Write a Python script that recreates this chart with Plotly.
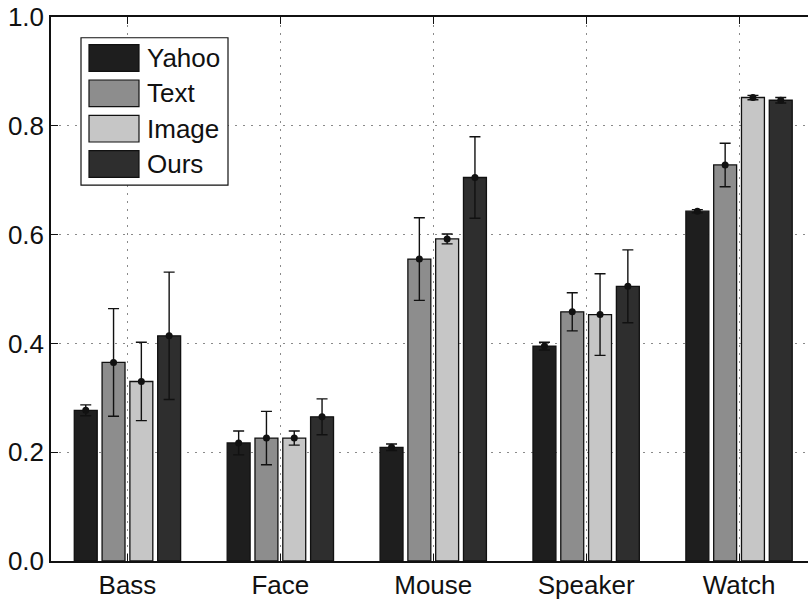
import plotly.graph_objects as go

# Retrieval accuracy per query category, mean and spread for each method
categories = ["Bass", "Face", "Mouse", "Speaker", "Watch"]
methods = ["Yahoo", "Text", "Image", "Ours"]

yahoo = [0.277, 0.217, 0.209, 0.395, 0.643]
yahoo_err = [0.010, 0.022, 0.006, 0.007, 0.003]
text = [0.365, 0.226, 0.555, 0.458, 0.728]
text_err = [0.099, 0.049, 0.076, 0.035, 0.040]
image = [0.330, 0.226, 0.592, 0.453, 0.852]
image_err = [0.072, 0.013, 0.009, 0.075, 0.004]
ours = [0.414, 0.265, 0.705, 0.505, 0.847]
ours_err = [0.117, 0.033, 0.075, 0.067, 0.005]

y_ticks = [0.0, 0.2, 0.4, 0.6, 0.8, 1.0]

series = [yahoo, text, image, ours]
errors = [yahoo_err, text_err, image_err, ours_err]
fills = ["#1e1e1e", "#8d8d8d", "#c6c6c6", "#2e2e2e"]

FONT = "Liberation Sans, Arial, Helvetica, sans-serif"
W, H = 808, 600
ML, MR, MT, MB = 51, 0, 17, 33

# grouped-bar geometry (in category units)
group_width = 4 / 5.5
slot = group_width / len(methods)
bar_width = 0.15

fig = go.Figure()
for k, (name, vals, errs, col) in enumerate(zip(methods, series, errors, fills)):
    off = (k - (len(methods) - 1) / 2) * slot
    xs = [i + 1 + off for i in range(len(categories))]
    fig.add_trace(go.Bar(
        x=xs, y=vals, width=bar_width, name=name,
        marker=dict(color=col, line=dict(color="#111111", width=1.3)),
        showlegend=False,
    ))
    fig.add_trace(go.Scatter(
        x=xs, y=vals, mode="markers",
        marker=dict(color="#111111", size=7),
        error_y=dict(type="data", array=errs, visible=True,
                     color="#111111", thickness=1.4, width=5.5),
        showlegend=False, hoverinfo="skip",
    ))

# pixel -> paper helpers for the hand-built legend
pw = W - ML - MR
ph = H - MT - MB
def px(x):
    return (x - ML) / pw
def py(y):
    return (H - MB - y) / ph

shapes = [dict(type="rect", xref="paper", yref="paper", layer="above",
               x0=px(81), x1=px(228), y0=py(187), y1=py(38),
               fillcolor="white", line=dict(color="#111111", width=1.2))]
annotations = []
for k, (name, col) in enumerate(zip(methods, fills)):
    top = 45 + k * 35.7
    shapes.append(dict(type="rect", xref="paper", yref="paper", layer="above",
                       x0=px(89), x1=px(139), y0=py(top + 27), y1=py(top),
                       fillcolor=col, line=dict(color="#111111", width=1.2)))
    annotations.append(dict(xref="paper", yref="paper", x=px(145), y=py(top + 13.5),
                            xanchor="left", yanchor="middle", text=name, showarrow=False,
                            font=dict(family=FONT, size=26, color="#111111")))

grid = dict(showgrid=True, gridcolor="#8a8a8a", gridwidth=1, griddash="2px,6px")

fig.update_layout(
    width=W, height=H,
    margin=dict(l=ML, r=MR, t=MT, b=MB, pad=0),
    paper_bgcolor="white", plot_bgcolor="white",
    barmode="overlay",
    font=dict(family=FONT, size=26, color="#111111"),
    shapes=shapes, annotations=annotations,
    xaxis=dict(range=[0.5, 0.5 + pw / 152.9], tickvals=[i + 1 for i in range(len(categories))],
               ticktext=categories, ticks="inside", ticklen=7, tickcolor="#111111",
               showline=True, linecolor="#111111", linewidth=1.5, mirror="ticks",
               zeroline=False, **grid),
    yaxis=dict(range=[0, 1], tickvals=y_ticks, ticktext=[f"{v:.1f}" for v in y_ticks],
               ticks="inside", ticklen=7, tickcolor="#111111",
               showline=True, linecolor="#111111", linewidth=1.5,
               zeroline=False, **grid),
)

fig.write_html("out.html")
